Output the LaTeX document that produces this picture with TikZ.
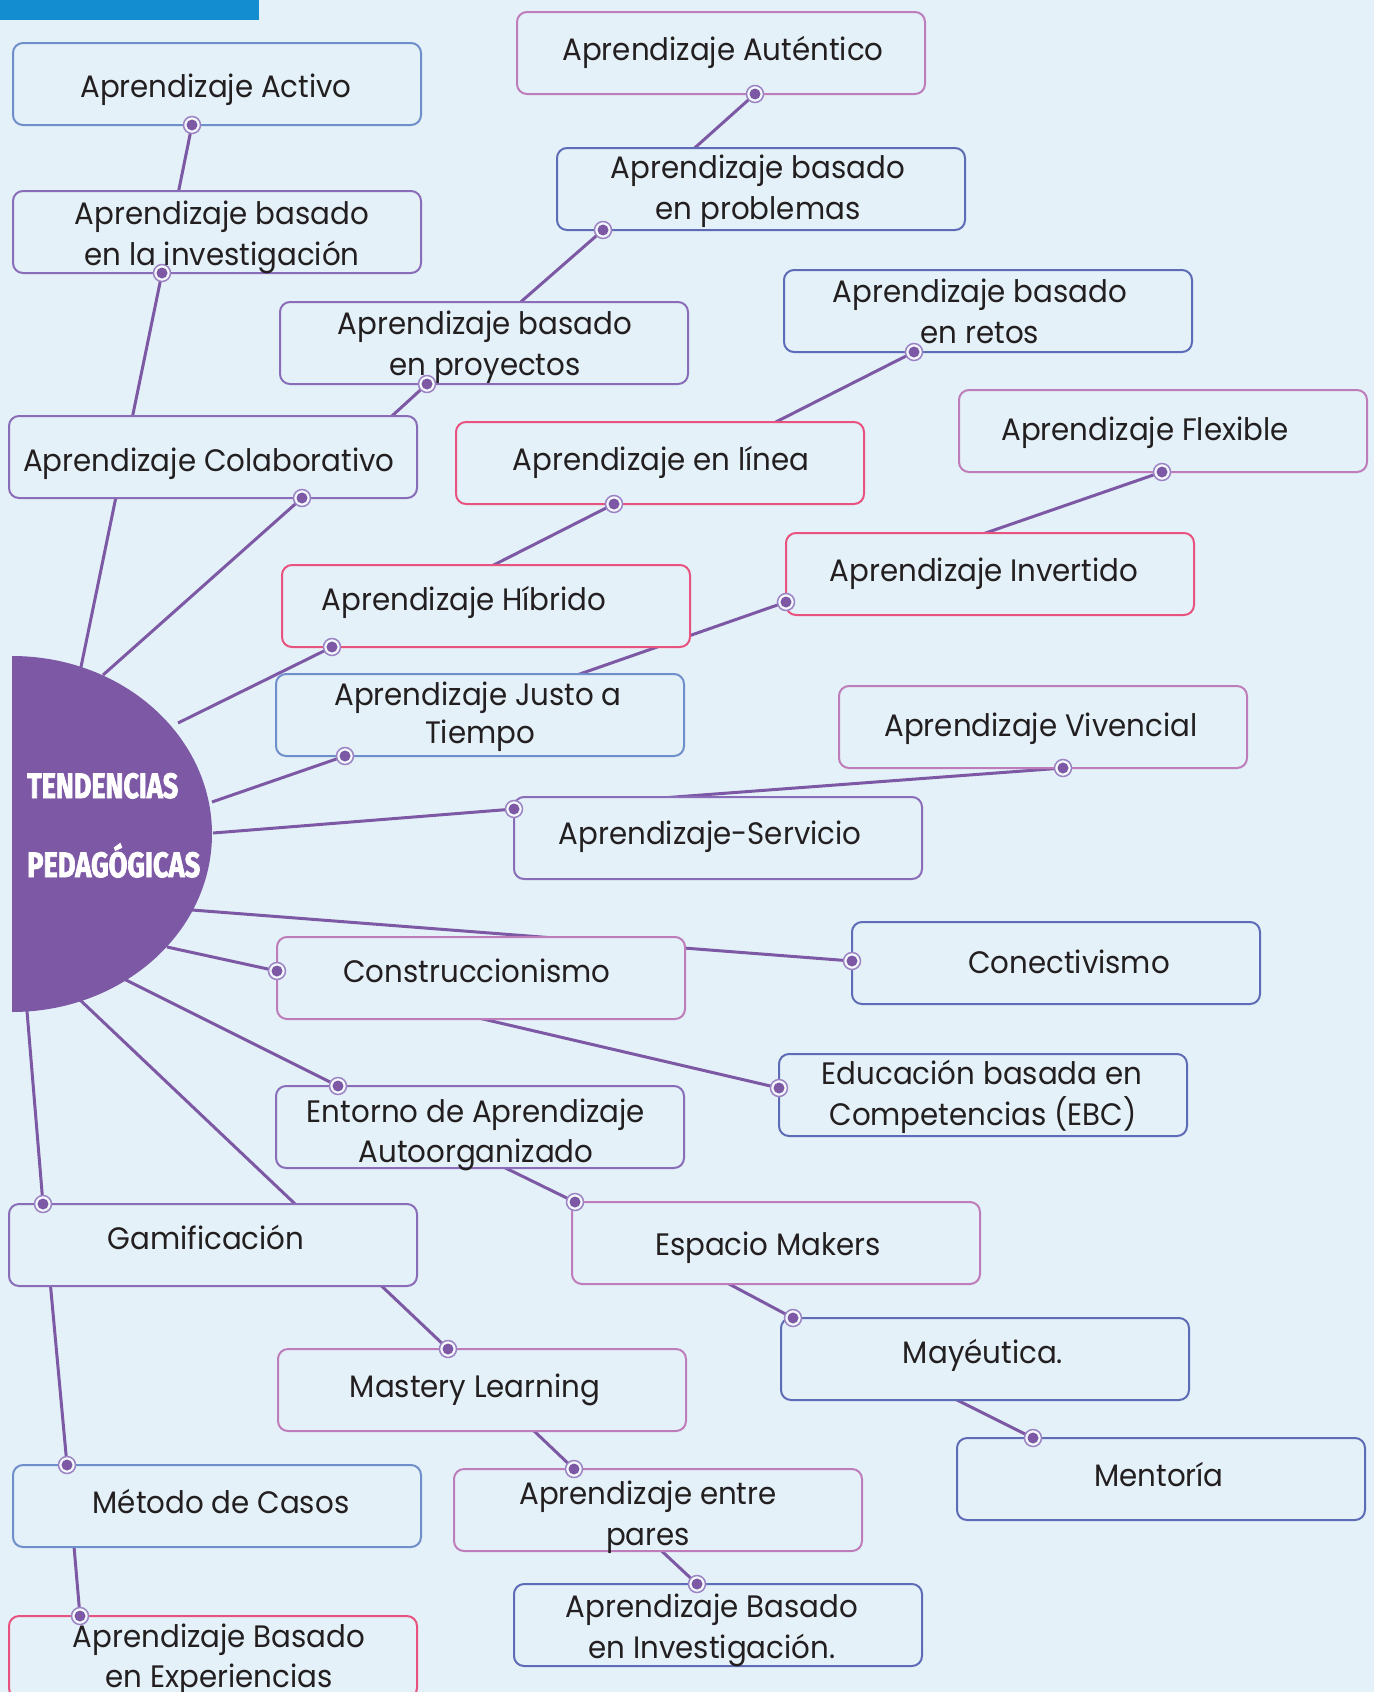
\documentclass[tikz,border=0pt]{standalone}
\usepackage{fontspec}
\usepackage{graphicx}
\newfontfamily\tbfont[FakeStretch=0.945]{Poppins}
\newfontfamily\hubfont[FakeBold=2.5]{Fira Sans}
\definecolor{bg}{HTML}{E4F1F8}
\definecolor{topbar}{HTML}{138DCF}
\definecolor{hubc}{HTML}{7D59A5}
\definecolor{cblue}{HTML}{6F8FCB}
\definecolor{cpurple}{HTML}{8A6DB8}
\definecolor{cpink}{HTML}{BE7DBA}
\definecolor{cindigo}{HTML}{5E6BB6}
\definecolor{cred}{HTML}{E8527E}
\definecolor{ink}{HTML}{231F20}
\newcommand{\bxf}{\tbfont\fontsize{31}{40}\selectfont}
\tikzset{
  box/.style={draw=#1, line width=2pt, rounded corners=10pt, fill=bg,
    minimum width=408pt, minimum height=82pt, inner sep=0pt, outer sep=0pt, anchor=north west},
  txt/.style={anchor=base, font=\bxf, text=ink, inner sep=0pt},
  link/.style={draw=hubc, line width=3pt},
  dot/.pic={\fill[white!55!bg, draw=cpurple!85, line width=1.5pt] (0,0) circle[radius=8.5pt];
            \fill[hubc] (0,0) circle[radius=5.5pt];}
}
\begin{document}
\begin{tikzpicture}[x=1pt,y=-1pt]
\fill[bg] (0,0) rectangle (1374,1692);
\useasboundingbox (0,0) rectangle (1374,1692);
\fill[topbar] (0,0) rectangle (259,20);

% hub edge points and connector dots
\coordinate (hA) at (81,667);  \coordinate (dA1) at (162,273); \coordinate (dA2) at (192,125);
\coordinate (hB) at (103,675); \coordinate (dB1) at (302,498); \coordinate (dB2) at (427,384);
\coordinate (dB3) at (603,230); \coordinate (dB4) at (755,94);
\coordinate (hC) at (178,723); \coordinate (dC1) at (332,647); \coordinate (dC2) at (614,504);
\coordinate (dC3) at (914,352);
\coordinate (hD) at (212,802); \coordinate (dD1) at (345,756); \coordinate (dD2) at (786,602);
\coordinate (dD3) at (1162,472);
\coordinate (hE) at (213,833); \coordinate (dE1) at (514,809); \coordinate (dE2) at (1063,768);
\coordinate (hF) at (192,910); \coordinate (dF1) at (852,961);
\coordinate (hG) at (167,947); \coordinate (dG1) at (277,971); \coordinate (dG2) at (779,1088);
\coordinate (hH) at (124,979); \coordinate (dH1) at (338,1086); \coordinate (dH2) at (575,1202);
\coordinate (dH3) at (793,1318); \coordinate (dH4) at (1033,1438);
\coordinate (hI) at (78,998);  \coordinate (dI1) at (448,1349); \coordinate (dI2) at (574,1469);
\coordinate (dI3) at (697,1584);
\coordinate (hJ) at (27,1011); \coordinate (dJ1) at (43,1204); \coordinate (dJ2) at (67,1465);
\coordinate (dJ3) at (80,1616);

% connectors
\draw[link] (hA) -- (dA1) -- (dA2);
\draw[link] (hB) -- (dB1) -- (dB2) -- (dB3) -- (dB4);
\draw[link] (hC) -- (dC1) -- (dC2) -- (dC3);
\draw[link] (hD) -- (dD1) -- (dD2) -- (dD3);
\draw[link] (hE) -- (dE1) -- (dE2);
\draw[link] (hF) -- (dF1);
\draw[link] (hG) -- (dG1) -- (dG2);
\draw[link] (hH) -- (dH1) -- (dH2) -- (dH3) -- (dH4);
\draw[link] (hI) -- (dI1) -- (dI2) -- (dI3);
\draw[link] (hJ) -- (dJ1) -- (dJ2) -- (dJ3);

% hub
\begin{scope}
\clip (12,600) rectangle (300,1100);
\fill[hubc] (12,834) ellipse [x radius=200, y radius=178];
\end{scope}
\node[anchor=base west, inner sep=0pt, text=white] (hubt1) at (27,798)
  {\resizebox{151pt}{25pt}{\hubfont\bfseries TENDENCIAS}};
\node[anchor=base west, inner sep=0pt, text=white] (hubt2) at (27,877)
  {\resizebox{173pt}{25pt}{\hubfont\bfseries PEDAG\smash{Ó}GICAS}};

% boxes
\node[box=cblue]   (activo)  at (13,43) {};
\node[box=cpurple] (invest)  at (13,191) {};
\node[box=cpink]   (autent)  at (517,12) {};
\node[box=cindigo] (problem) at (557,148) {};
\node[box=cpurple] (proyect) at (280,302) {};
\node[box=cindigo] (retos)   at (784,270) {};
\node[box=cpurple] (colab)   at (9,416) {};
\node[box=cred]    (linea)   at (456,422) {};
\node[box=cpink]   (flex)    at (959,390) {};
\node[box=cred]    (hibrido) at (282,565) {};
\node[box=cred]    (invert)  at (786,533) {};
\node[box=cblue]   (justo)   at (276,674) {};
\node[box=cpink]   (vivenc)  at (839,686) {};
\node[box=cpurple] (servic)  at (514,797) {};
\node[box=cpink]   (constr)  at (277,937) {};
\node[box=cindigo] (conect)  at (852,922) {};
\node[box=cindigo] (ebc)     at (779,1054) {};
\node[box=cpurple] (entorno) at (276,1086) {};
\node[box=cpink]   (makers)  at (572,1202) {};
\node[box=cpurple] (gamif)   at (9,1204) {};
\node[box=cindigo] (mayeut)  at (781,1318) {};
\node[box=cpink]   (mastery) at (278,1349) {};
\node[box=cindigo] (mentor)  at (957,1438) {};
\node[box=cblue]   (metodo)  at (13,1465) {};
\node[box=cpink]   (pares)   at (454,1469) {};
\node[box=cindigo] (bainv)   at (514,1584) {};
\node[box=cred]    (experi)  at (9,1616) {};

% dots
\foreach \d in {dA1,dA2,dB1,dB2,dB3,dB4,dC1,dC2,dC3,dD1,dD2,dD3,dE1,dE2,dF1,dG1,dG2,
                dH1,dH2,dH3,dH4,dI1,dI2,dI3,dJ1,dJ2,dJ3}
  \pic at (\d) {dot};

% texts
\node[txt] (t1)  at (216,97)   {Aprendizaje Activo};
\node[txt] (t2a) at (222,224)  {Aprendizaje basado};
\node[txt] (t2b) at (222,265)  {en la investigación};
\node[txt] (t3)  at (723,60)   {Aprendizaje Auténtico};
\node[txt] (t4a) at (758,178)  {Aprendizaje basado};
\node[txt] (t4b) at (758,219)  {en problemas};
\node[txt] (t5a) at (485,334)  {Aprendizaje basado};
\node[txt] (t5b) at (485,375)  {en proyectos};
\node[txt] (t6a) at (980,302)  {Aprendizaje basado};
\node[txt] (t6b) at (980,343)  {en retos};
\node[txt] (t7)  at (209,471)  {Aprendizaje Colaborativo};
\node[txt] (t8)  at (661,470)  {Aprendizaje en línea};
\node[txt] (t9)  at (1145,440) {Aprendizaje Flexible};
\node[txt] (t10) at (464,610)  {Aprendizaje Híbrido};
\node[txt] (t11) at (984,581)  {Aprendizaje Invertido};
\node[txt] (t12a) at (478,705) {Aprendizaje Justo a};
\node[txt] (t12b) at (480,743) {Tiempo};
\node[txt] (t13) at (1041,736) {Aprendizaje Vivencial};
\node[txt] (t14) at (710,844)  {Aprendizaje-Servicio};
\node[txt] (t15) at (477,982)  {Construccionismo};
\node[txt] (t16) at (1069,973) {Conectivismo};
\node[txt] (t17a) at (982,1084) {Educación basada en};
\node[txt] (t17b) at (983,1125) {Competencias (EBC)};
\node[txt] (t18a) at (476,1122) {Entorno de Aprendizaje};
\node[txt] (t18b) at (476,1162) {Autoorganizado};
\node[txt] (t19) at (768,1255) {Espacio Makers};
\node[txt] (t20) at (206,1249) {Gamificación};
\node[txt] (t21) at (983,1363) {Mayéutica.};
\node[txt] (t22) at (475,1397) {Mastery Learning};
\node[txt] (t23) at (1159,1486) {Mentoría};
\node[txt] (t24) at (221,1513) {Método de Casos};
\node[txt] (t25a) at (648,1504) {Aprendizaje entre};
\node[txt] (t25b) at (648,1545) {pares};
\node[txt] (t26a) at (712,1617) {Aprendizaje Basado};
\node[txt] (t26b) at (712,1658) {en Investigación.};
\node[txt] (t27a) at (219,1647) {Aprendizaje Basado};
\node[txt] (t27b) at (219,1687) {en Experiencias};
\end{tikzpicture}
\end{document}
